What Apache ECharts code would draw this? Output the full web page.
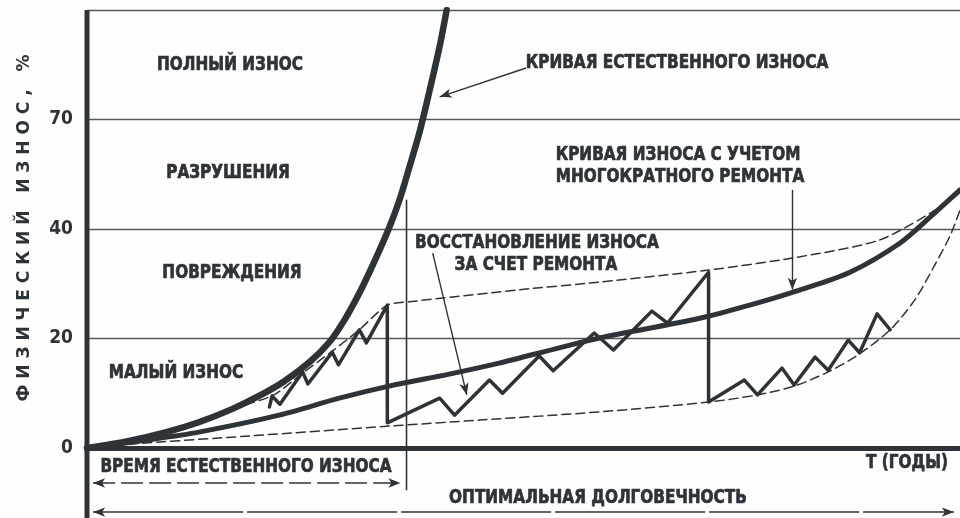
<!DOCTYPE html>
<html>
<head>
<meta charset="utf-8">
<script src="https://cdn.jsdelivr.net/npm/echarts@6/dist/echarts.min.js"></script>
<style>
  html, body { margin: 0; padding: 0; background: #fefefe; }
  #chart { width: 960px; height: 518px; }
</style>
</head>
<body>
<div id="chart"></div>
<script>
// x - время (условные единицы 0..100), y - физический износ, %
var tickValues = [0, 20, 40, 70, 100];
var tickLabels = ['0', '20', '40', '70', ''];

// кривая естественного износа
var naturalWear = [[0, 0], [4.8, 1.3], [9.1, 2.9], [12.8, 4.7], [16.6, 7.1], [19.7, 9.5], [22.6, 12.2],
    [25.5, 15.7], [27.8, 19.4], [29.5, 23.4], [31.2, 28.3], [32.9, 34.0], [34.6, 40.3], [35.8, 48.0],
    [36.9, 56.7], [38.1, 66.6], [39.2, 77.5], [40.4, 90.1], [41.2, 100]];
// кривая износа с учетом многократного ремонта
var repairWear = [[0, 0], [7.1, 1.5], [12.8, 2.9], [22.0, 6.0], [28.9, 9.1], [34.6, 11.3], [41.5, 13.5],
    [47.2, 15.5], [54.1, 18.3], [58.7, 20.1], [70.2, 23.7], [75.9, 26.1], [81.7, 28.9], [87.4, 32.1],
    [93.1, 37.4], [96.6, 43.3], [100, 50.7]];
// огибающие (пунктир)
var upperBound = [[6.0, 1.5], [12.8, 4.9], [17.4, 7.5], [21.4, 9.7], [24.7, 13.7], [28.1, 17.7], [31.2, 21.6],
    [34.4, 26.1], [36.9, 26.7], [49.5, 28.9], [58.7, 30.3], [71.2, 32.5], [80.8, 34.7], [90.8, 38.0],
    [98.5, 47.1], [100, 50.1]];
var lowerBound = [[0, 0], [4.8, 0.7], [18.6, 2.2], [34.6, 4.0], [45.0, 5.1], [58.7, 6.6], [71.2, 8.4],
    [76.8, 9.7], [81.0, 11.3], [84.9, 13.9], [88.5, 17.2], [92.0, 21.6], [94.8, 27.0], [97.1, 33.4],
    [98.9, 38.9], [100, 45.2]];
// износ и восстановление за счет ремонтов
var repairCycles = [[20.9, 7.5], [21.2, 9.5], [22.1, 8.0], [24.7, 13.9], [25.3, 11.7], [28.1, 17.5],
    [28.8, 15.2], [31.2, 21.6], [32.0, 19.2], [34.4, 26.1], [34.4, 4.6],
    [40.4, 9.1], [42.1, 6.0], [46.1, 12.4], [47.6, 10.0], [51.8, 16.8], [53.4, 14.1], [58.1, 21.0],
    [60.3, 17.9], [64.7, 25.0], [66.5, 22.8], [71.2, 32.1], [71.2, 8.4],
    [75.3, 12.4], [76.8, 9.7], [79.6, 14.6], [81.0, 11.5], [83.4, 16.6], [84.9, 14.2], [87.2, 19.7],
    [88.5, 17.4], [90.5, 24.5], [92.0, 21.6]];
// время естественного износа и оптимальная долговечность
var naturalTime = 36.6;
var optimalLife = 100;

var ink = '#2e3338';
var font = '"DejaVu Sans Condensed", "DejaVu Sans", sans-serif';

// перевод % в деление шкалы (деления 0-20-40-70-100 идут с равным шагом)
function lvl(p) {
    for (var i = 1; i < tickValues.length; i++) {
        if (p <= tickValues[i] || i === tickValues.length - 1) {
            return i - 1 + (p - tickValues[i - 1]) / (tickValues[i] - tickValues[i - 1]);
        }
    }
}
function conv(arr) {
    return arr.map(function (d) { return [d[0], lvl(d[1])]; });
}

function lineSeries(data, width, type, smooth) {
    return {
        type: 'line', data: conv(data), symbol: 'none', smooth: smooth, silent: true,
        lineStyle: {color: ink, width: width, type: type, cap: 'round', join: 'round'}
    };
}

// размерная линия со стрелками на концах (под осью, поэтому без обрезки)
function dimSeries(x0, x1, p, dash) {
    var y = lvl(p);
    return {
        type: 'line', clip: false, silent: true, showSymbol: true,
        data: [
            {value: [x0 + 0.7, y], symbol: 'arrow', symbolSize: [7, 12], symbolRotate: 90},
            {value: [x1 - 0.7, y], symbol: 'arrow', symbolSize: [7, 12], symbolRotate: -90}
        ],
        itemStyle: {color: ink},
        lineStyle: {color: ink, width: 1.6, type: dash}
    };
}

var chart = echarts.init(document.getElementById('chart'));

var arrowStyle = {color: ink, width: 1.4, type: 'solid'};
var series = [
    lineSeries(lowerBound, 1.5, [9, 5], 0.3),
    lineSeries(upperBound, 1.5, [9, 5], 0.25),
    lineSeries(repairCycles, 3.5, 'solid', false),
    lineSeries(repairWear, 5, 'solid', 0.3),
    lineSeries(naturalWear, 6.5, 'solid', 0.3)
];
// левая ось и граница естественного износа
series.push({
    type: 'line', clip: false, symbol: 'none', silent: true,
    data: [[0, lvl(-14)], [0, lvl(100)]],
    lineStyle: {color: ink, width: 5}
});
series.push({
    type: 'line', clip: false, symbol: 'none', silent: true,
    data: [[naturalTime, lvl(-7.7)], [naturalTime, lvl(48)]],
    lineStyle: {color: ink, width: 1.6}
});
series.push(dimSeries(0, naturalTime, -6.4, [22, 6]));
series.push(dimSeries(0, optimalLife, -11.7, [150, 4]));
// стрелки-выноски
series.push({
    type: 'line', data: [], silent: true,
    markLine: {
        silent: true, animation: false, symbolSize: [7, 12],
        label: {show: false},
        data: [
            [{coord: [50.3, lvl(84.1)], symbol: 'none', lineStyle: arrowStyle}, {coord: [40.4, lvl(76.2)], symbol: 'arrow'}],
            [{coord: [80.8, lvl(50.7)], symbol: 'none', lineStyle: arrowStyle}, {coord: [80.8, lvl(28.9)], symbol: 'arrow'}],
            [{coord: [39.6, lvl(35.6)], symbol: 'none', lineStyle: arrowStyle}, {coord: [43.5, lvl(9.7)], symbol: 'arrow'}]
        ]
    }
});

function txt(text, x, y, size) {
    return {
        type: 'text', x: x, y: y, scaleY: 1.1, silent: true,
        style: {
            text: text, font: 'bold ' + size + 'px ' + font, fill: ink, stroke: ink, lineWidth: 0.6,
            align: 'center', verticalAlign: 'middle'
        }
    };
}

chart.setOption({
    backgroundColor: '#fefefe',
    animation: false,
    grid: {left: 87, right: 0, top: 10, bottom: 70},
    xAxis: {
        type: 'value', min: 0, max: 100,
        axisLine: {lineStyle: {color: ink, width: 5}},
        axisTick: {show: false}, axisLabel: {show: false}, splitLine: {show: false}
    },
    yAxis: {
        type: 'value', min: 0, max: 4, interval: 1,
        axisLine: {show: false}, axisTick: {show: false},
        axisLabel: {
            margin: 14, color: ink, fontSize: 19, fontWeight: 'bold', fontFamily: font,
            formatter: function (v) { return tickLabels[v]; }
        },
        splitLine: {lineStyle: {color: '#55595e', width: 1.3}}
    },
    series: series,
    graphic: [
        txt('ПОЛНЫЙ ИЗНОС', 230, 65, 17),
        txt('РАЗРУШЕНИЯ', 228, 173, 17),
        txt('ПОВРЕЖДЕНИЯ', 232, 273, 17),
        txt('МАЛЫЙ ИЗНОС', 176, 373, 17),
        txt('КРИВАЯ ЕСТЕСТВЕННОГО ИЗНОСА', 677, 63, 17),
        txt('КРИВАЯ ИЗНОСА С УЧЕТОМ', 678, 155, 17),
        txt('МНОГОКРАТНОГО РЕМОНТА', 680, 177, 17),
        txt('ВОССТАНОВЛЕНИЕ ИЗНОСА', 537, 243, 17),
        txt('ЗА СЧЕТ РЕМОНТА', 536, 265, 17),
        txt('ВРЕМЯ ЕСТЕСТВЕННОГО ИЗНОСА', 246, 467, 17),
        txt('ОПТИМАЛЬНАЯ ДОЛГОВЕЧНОСТЬ', 598, 498, 17),
        txt('Т (ГОДЫ)', 907, 463, 17),
        {
            type: 'text', x: 25, y: 228, rotation: Math.PI / 2, silent: true,
            style: {
                text: 'Ф И З И Ч Е С К И Й   И З Н О С ,   %',
                font: 'bold 17px "DejaVu Sans", sans-serif', fill: ink, align: 'center', verticalAlign: 'middle'
            }
        }
    ]
});
</script>
</body>
</html>
